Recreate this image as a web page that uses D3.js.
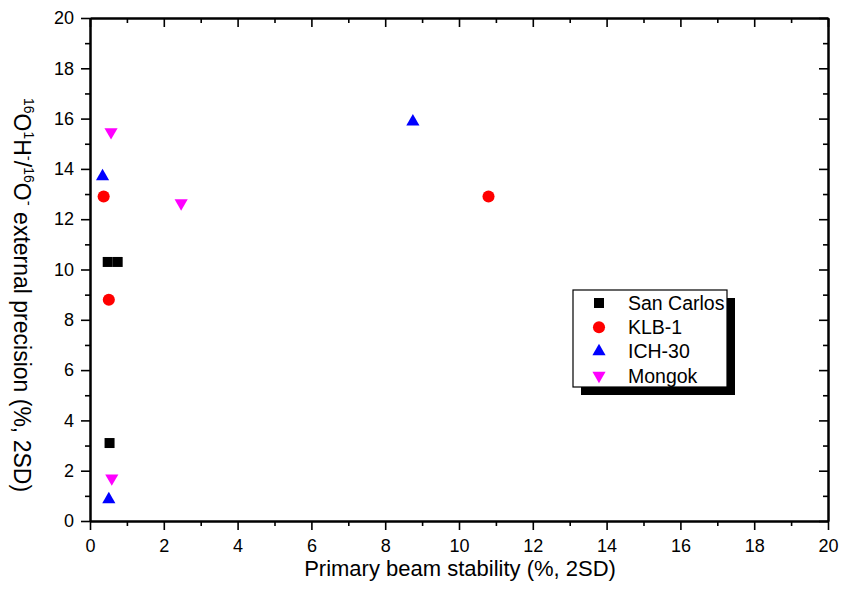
<html>
<script src='https://d3js.org/d3.v7.min.js'></script>
<style>
body { margin: 0; background: white; }
text { font-family: 'Liberation Sans', Arial, sans-serif; }
</style>
<body>
<svg width=854 height=593></svg>
<script>
// values
const series = ["San Carlos", "KLB-1", "ICH-30", "Mongok"];
const colors = ["#000000", "#ff0000", "#0000ff", "#ff00ff"];
const shapes = ["square", "circle", "up", "down"];

const sanCarlosX = [0.48, 0.75, 0.53];
const sanCarlosY = [10.3, 10.3, 3.1];
const klbX = [0.37, 0.51, 10.8];
const klbY = [12.9, 8.8, 12.9];
const ichX = [0.34, 0.51, 8.75];
const ichY = [13.7, 0.86, 15.88];
const mongokX = [0.57, 2.47, 0.59];
const mongokY = [15.47, 12.64, 1.7];

const xTicks = [0, 2, 4, 6, 8, 10, 12, 14, 16, 18, 20];
const yTicks = [0, 2, 4, 6, 8, 10, 12, 14, 16, 18, 20];

const svg = d3.select("svg");
const mLeft = 90, mRight = 828, mTop = 18, mBottom = 521;

var x = d3.scaleLinear().domain([0, 20]).range([mLeft, mRight]);
var y = d3.scaleLinear().domain([0, 20]).range([mBottom, mTop]);

const minor = d3.range(1, 20, 2);

function styleAxis(g) {
    g.select(".domain").attr("stroke-width", 2).attr("stroke", "#000");
    g.selectAll(".tick line").attr("stroke-width", 1.6).attr("stroke", "#000");
    g.selectAll("text").style("font-size", "18px").attr("fill", "#000");
}

// bottom + left, ticks outward
svg.append("g").attr("transform", `translate(0,${mBottom})`)
    .call(d3.axisBottom(x).tickValues(xTicks).tickSize(9).tickSizeOuter(0).tickPadding(9))
    .call(styleAxis);
svg.append("g").attr("transform", `translate(0,${mBottom})`)
    .call(d3.axisBottom(x).tickValues(minor).tickSize(5).tickFormat("").tickSizeOuter(0))
    .call(styleAxis);
svg.append("g").attr("transform", `translate(${mLeft},0)`)
    .call(d3.axisLeft(y).tickValues(yTicks).tickSize(9).tickSizeOuter(0).tickPadding(7))
    .call(styleAxis);
svg.append("g").attr("transform", `translate(${mLeft},0)`)
    .call(d3.axisLeft(y).tickValues(minor).tickSize(5).tickFormat("").tickSizeOuter(0))
    .call(styleAxis);
// top + right, ticks inward
svg.append("g").attr("transform", `translate(0,${mTop})`)
    .call(d3.axisTop(x).tickValues(xTicks).tickSize(-9).tickFormat("").tickSizeOuter(0))
    .call(styleAxis);
svg.append("g").attr("transform", `translate(0,${mTop})`)
    .call(d3.axisTop(x).tickValues(minor).tickSize(-5).tickFormat("").tickSizeOuter(0))
    .call(styleAxis);
svg.append("g").attr("transform", `translate(${mRight},0)`)
    .call(d3.axisRight(y).tickValues(yTicks).tickSize(-9).tickFormat("").tickSizeOuter(0))
    .call(styleAxis);
svg.append("g").attr("transform", `translate(${mRight},0)`)
    .call(d3.axisRight(y).tickValues(minor).tickSize(-5).tickFormat("").tickSizeOuter(0))
    .call(styleAxis);

// markers
function symbolFor(shape) {
    if (shape == "square") return d3.symbol().type(d3.symbolSquare).size(100);
    if (shape == "circle") return d3.symbol().type(d3.symbolCircle).size(115);
    return d3.symbol().type(d3.symbolTriangle).size(75);
}

const allData = [
    [sanCarlosX, sanCarlosY],
    [klbX, klbY],
    [ichX, ichY],
    [mongokX, mongokY]
];

allData.forEach((s, i) => {
    const pts = s[0].map((v, j) => ({x: v, y: s[1][j]}));
    svg.append("g").selectAll("path")
        .data(pts)
        .enter()
        .append("path")
        .attr("d", symbolFor(shapes[i])())
        .attr("transform", d => `translate(${x(d.x)},${y(d.y)})` + (shapes[i] == "down" ? " rotate(180)" : ""))
        .attr("fill", colors[i]);
});

// legend
const lg = svg.append("g").attr("transform", "translate(573,290)");
lg.append("rect").attr("x", 8).attr("y", 8).attr("width", 154).attr("height", 97).attr("fill", "#000");
lg.append("rect").attr("x", 0).attr("y", 0).attr("width", 154).attr("height", 97)
    .attr("fill", "white").attr("stroke", "#000").attr("stroke-width", 1.2);
series.forEach((name, i) => {
    lg.append("path")
        .attr("d", symbolFor(shapes[i])())
        .attr("transform", `translate(26,${13 + i * 24.2})` + (shapes[i] == "down" ? " rotate(180)" : ""))
        .attr("fill", colors[i]);
    lg.append("text").attr("x", 55).attr("y", 20 + i * 24.2)
        .style("font-size", "19.5px").text(name);
});

// axis titles
svg.append("text").attr("x", (mLeft + mRight) / 2 + 1).attr("y", 576)
    .attr("text-anchor", "middle").style("font-size", "22px")
    .text("Primary beam stability (%, 2SD)");

// y title reads top to bottom
const yt = svg.append("text")
    .attr("transform", "translate(14,295) rotate(90)")
    .attr("text-anchor", "middle").style("font-size", "23px");
yt.append("tspan").attr("dy", -10).style("font-size", "14px").text("16");
yt.append("tspan").attr("dy", 10).text("O");
yt.append("tspan").attr("dy", -10).style("font-size", "14px").text("1");
yt.append("tspan").attr("dy", 10).text("H");
yt.append("tspan").attr("dy", -10).style("font-size", "15px").text("-");
yt.append("tspan").attr("dy", 10).text("/");
yt.append("tspan").attr("dy", -10).style("font-size", "14px").text("16");
yt.append("tspan").attr("dy", 10).text("O");
yt.append("tspan").attr("dy", -10).style("font-size", "15px").text("-");
yt.append("tspan").attr("dy", 10).text(" external precision (%, 2SD)");
</script>
</body>
</html>
